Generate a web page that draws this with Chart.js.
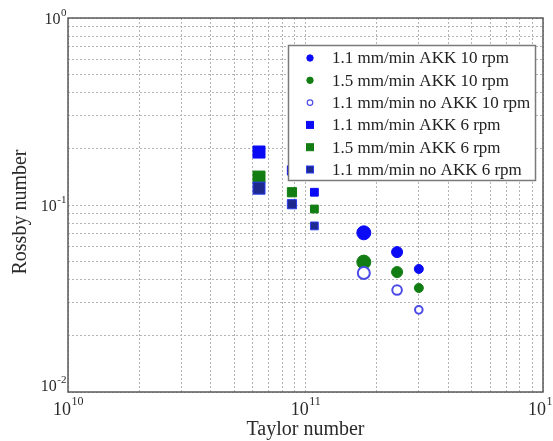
<!DOCTYPE html>
<html>
<head>
<meta charset="utf-8">
<script src="https://cdn.jsdelivr.net/npm/chart.js@4.4.0/dist/chart.umd.min.js"></script>
<style>
  html, body { margin: 0; padding: 0; background: #fff; overflow: hidden; }
  #wrap { width: 553px; height: 441px; position: relative; }
</style>
</head>
<body>
<div id="wrap"><canvas id="chart"></canvas></div>
<script>
// Data
const seriesNames = [
    '1.1 mm/min AKK 10 rpm',
    '1.5 mm/min AKK 10 rpm',
    '1.1 mm/min no AKK 10 rpm',
    '1.1 mm/min AKK 6 rpm',
    '1.5 mm/min AKK 6 rpm',
    '1.1 mm/min no AKK 6 rpm'
];

const taylor10rpm = [1.76e11, 2.43e11, 3.0e11];
const rossbyAkk11at10 = [0.071, 0.056, 0.0455];
const rossbyAkk15at10 = [0.0495, 0.0438, 0.036];
const rossbyNoAkk11at10 = [0.0433, 0.0351, 0.0275];

const taylor6rpm = [6.37e10, 8.77e10, 1.09e11];
const rossbyAkk11at6 = [0.192, 0.153, 0.117];
const rossbyAkk15at6 = [0.141, 0.117, 0.0952];
const rossbyNoAkk11at6 = [0.123, 0.101, 0.0773];

// Axis decades and tick labels
const xDecades = [1e10, 1e11, 1e12];
const xTickExp = ['10', '11', '12'];
const yDecades = [0.01, 0.1, 1];
const yTickExp = ['-2', '-1', '0'];

function minorGrid(decades) {
    const vals = [];
    for (let d = 0; d < decades.length - 1; d++) {
        for (let k = 1; k < 10; k++) vals.push(decades[d] * k);
    }
    vals.push(decades[decades.length - 1]);
    return vals;
}

function pts(xs, ys) {
    return xs.map((x, i) => ({ x: x, y: ys[i] }));
}

const BLUE = '#0a0af5';
const GREEN = '#127d12';
const RING = '#4b4be8';
const NAVY = '#1f2a8f';

const datasets = [
    { data: pts(taylor10rpm, rossbyAkk11at10), pointStyle: 'circle', pointRadius: [7, 5.5, 4.5],
      backgroundColor: BLUE, borderColor: BLUE, borderWidth: 1, order: 6 },
    { data: pts(taylor10rpm, rossbyAkk15at10), pointStyle: 'circle', pointRadius: [7, 5.5, 4.5],
      backgroundColor: GREEN, borderColor: GREEN, borderWidth: 1, order: 5 },
    { data: pts(taylor10rpm, rossbyNoAkk11at10), pointStyle: 'circle', pointRadius: [6, 4.8, 3.8],
      backgroundColor: '#fff', borderColor: RING, borderWidth: 2, order: 4 },
    { data: pts(taylor6rpm, rossbyAkk11at6), pointStyle: 'rect', pointRadius: [8.5, 6.5, 5.5],
      backgroundColor: BLUE, borderColor: BLUE, borderWidth: 1, order: 3 },
    { data: pts(taylor6rpm, rossbyAkk15at6), pointStyle: 'rect', pointRadius: [8.5, 6.5, 5.5],
      backgroundColor: GREEN, borderColor: GREEN, borderWidth: 1, order: 2 },
    { data: pts(taylor6rpm, rossbyNoAkk11at6), pointStyle: 'rect', pointRadius: [8.5, 6.5, 5.5],
      backgroundColor: NAVY, borderColor: '#2b3cf0', borderWidth: 1, order: 1 }
];
datasets.forEach((ds, i) => { ds.label = seriesNames[i]; ds.pointHoverRadius = ds.pointRadius; });

const SERIF = '"Liberation Serif", "DejaVu Serif", serif';

// "10" with a raised exponent
function drawPower(ctx, exp, x, y, align, baseSize, supSize) {
    ctx.font = baseSize + 'px ' + SERIF;
    const wb = ctx.measureText('10').width;
    ctx.font = supSize + 'px ' + SERIF;
    const ws = ctx.measureText(exp).width;
    let left = x - (wb + ws) / 2;
    if (align === 'right') left = x - wb - ws;
    ctx.textAlign = 'left';
    ctx.textBaseline = 'middle';
    ctx.font = baseSize + 'px ' + SERIF;
    ctx.fillText('10', left, y);
    ctx.font = supSize + 'px ' + SERIF;
    ctx.fillText(exp, left + wb + 0.5, y - baseSize * 0.45);
}

const decorations = {
    id: 'decorations',
    afterDatasetsDraw(chart) {
        const ctx = chart.ctx;
        // legend box
        const bx = 288, by = 45, bw = 247, bh = 135;
        ctx.save();
        ctx.fillStyle = '#fff';
        ctx.fillRect(bx, by, bw, bh);
        ctx.strokeStyle = '#7a7a7a';
        ctx.lineWidth = 1.5;
        ctx.strokeRect(bx + 0.5, by + 0.5, bw, bh);
        ctx.font = '17px ' + SERIF;
        ctx.textBaseline = 'middle';
        ctx.textAlign = 'left';
        seriesNames.forEach((name, i) => {
            const ds = chart.data.datasets[i];
            const y = by + 13 + i * 22.3;
            const mx = 310;
            ctx.fillStyle = ds.backgroundColor;
            ctx.strokeStyle = ds.borderColor;
            ctx.lineWidth = ds.borderWidth;
            if (ds.pointStyle === 'circle') {
                ctx.beginPath();
                ctx.arc(mx, y, i === 2 ? 2.8 : 3.2, 0, Math.PI * 2);
                ctx.fill();
                ctx.lineWidth = i === 2 ? 1.2 : 1;
                ctx.stroke();
            } else {
                ctx.fillRect(mx - 3.5, y - 3.5, 7, 7);
                ctx.strokeRect(mx - 3.5, y - 3.5, 7, 7);
            }
            ctx.fillStyle = '#222';
            ctx.fillText(name, 332, y + 1);
        });
        ctx.restore();
    },
    afterDraw(chart) {
        const ctx = chart.ctx;
        const a = chart.chartArea;
        const xs = chart.scales.x, ys = chart.scales.y;
        ctx.save();
        // frame
        ctx.strokeStyle = '#5a5a5a';
        ctx.lineWidth = 1.5;
        ctx.strokeRect(a.left, a.top, a.right - a.left, a.bottom - a.top);
        // tick labels
        ctx.fillStyle = '#2a2a2a';
        yDecades.forEach((v, i) => {
            const py = ys.getPixelForValue(v);
            drawPower(ctx, yTickExp[i], a.left - 2, Math.min(py + 2, a.bottom - 5), 'right', 16, 11);
        });
        xDecades.forEach((v, i) => {
            const px = xs.getPixelForValue(v);
            drawPower(ctx, xTickExp[i], px, a.bottom + 18, 'center', 18, 12);
        });
        // axis titles
        ctx.font = '20px ' + SERIF;
        ctx.textAlign = 'center';
        ctx.textBaseline = 'middle';
        ctx.fillText('Taylor number', (a.left + a.right) / 2, 430);
        ctx.translate(21, 212);
        ctx.rotate(-Math.PI / 2);
        ctx.fillText('Rossby number', 0, 0);
        ctx.restore();
    }
};

function gridScale(decades) {
    return {
        type: 'logarithmic',
        min: decades[0],
        max: decades[decades.length - 1],
        afterBuildTicks: (scale) => {
            scale.ticks = minorGrid(decades).map(v => ({ value: v }));
        },
        ticks: { display: false },
        grid: { color: '#b4b4b4', lineWidth: 1, drawTicks: false },
        border: { display: false, dash: [2, 2] },
        title: { display: false }
    };
}

function initChart() {
    const ctx = document.getElementById('chart').getContext('2d');
    new Chart(ctx, {
        type: 'scatter',
        data: { datasets: datasets },
        options: {
            responsive: true,
            maintainAspectRatio: false,
            animation: false,
            layout: { padding: { left: 68, right: 10, top: 18, bottom: 49 } },
            plugins: {
                legend: { display: false },
                tooltip: { enabled: false }
            },
            scales: {
                x: gridScale(xDecades),
                y: gridScale(yDecades)
            }
        },
        plugins: [decorations]
    });
}

initChart();
</script>
</body>
</html>
